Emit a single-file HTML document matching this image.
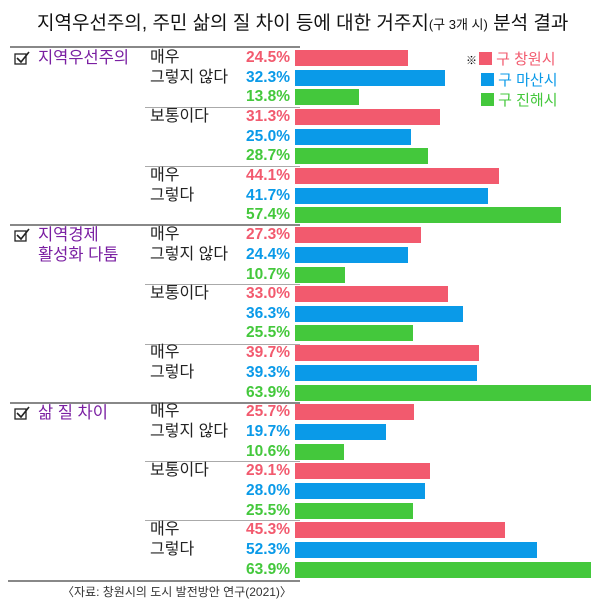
<!DOCTYPE html>
<html><head><meta charset="utf-8"><style>
body{margin:0;width:600px;height:607px;background:#fff;position:relative;overflow:hidden;font-family:"Liberation Sans","Noto Sans CJK KR",sans-serif;}
.a{position:absolute;}
.r{position:absolute;left:0;width:600px;height:20px;line-height:20px;}
.r .p{position:absolute;right:310px;font-weight:bold;font-size:15.5px;}
.r .b{position:absolute;left:295px;top:2px;height:16px;}
.r .t{position:absolute;left:150px;font-size:16px;color:#222;}
.R .p{color:#f25a6e}.R .b{background:#f25a6e}
.B .p{color:#0a9ae8}.B .b{background:#0a9ae8}
.G .p{color:#44c83c}.G .b{background:#44c83c}
.sl{position:absolute;left:145px;width:155px;height:1px;background:#aaa;}
.cl{position:absolute;left:10px;width:290px;height:2px;background:#888;}
.cat{position:absolute;left:14px;font-size:16.5px;color:#7a1fa2;line-height:20px;}
.cat svg{vertical-align:-2px;margin-right:8px;}
</style></head><body>
<div class="a" style="left:37px;top:8px;font-size:19px;color:#111;white-space:nowrap;">지역우선주의, 주민 삶의 질 차이 등에 대한 거주지<span style="font-size:13px">(구 3개 시)</span> 분석 결과</div>

<div class="a" style="left:466px;top:50px;font-size:15px;line-height:20px;">
<div><span style="font-size:11px;margin-right:2px">※</span><span style="display:inline-block;width:13px;height:13px;background:#f25a6e;vertical-align:-1px"></span><span style="color:#f25a6e"> 구 창원시</span></div>
<div style="padding-left:15px"><span style="display:inline-block;width:13px;height:13px;background:#0a9ae8;vertical-align:-1px"></span><span style="color:#0a9ae8"> 구 마산시</span></div>
<div style="padding-left:15px"><span style="display:inline-block;width:13px;height:13px;background:#44c83c;vertical-align:-1px"></span><span style="color:#44c83c"> 구 진해시</span></div>
</div>

<div class="cl" style="top:46px"></div>
<div class="cl" style="top:224px"></div>
<div class="cl" style="top:402px"></div>
<div class="cl" style="top:580px;left:8px;width:292px"></div>
<div class="sl" style="top:107px"></div><div class="sl" style="top:166px"></div>
<div class="sl" style="top:284px"></div><div class="sl" style="top:344px"></div>
<div class="sl" style="top:461px"></div><div class="sl" style="top:520px"></div>

<div class="cat" style="top:48px"><svg width="16" height="14"><rect x="1" y="3" width="11" height="10" fill="none" stroke="#222" stroke-width="1.3"/><path d="M3 7 L7 11 L15 1" fill="none" stroke="#222" stroke-width="1.6"/></svg>지역우선주의</div>
<div class="cat" style="top:225px"><svg width="16" height="14"><rect x="1" y="3" width="11" height="10" fill="none" stroke="#222" stroke-width="1.3"/><path d="M3 7 L7 11 L15 1" fill="none" stroke="#222" stroke-width="1.6"/></svg>지역경제<br><span style="padding-left:24px">활성화 다툼</span></div>
<div class="cat" style="top:403px"><svg width="16" height="14"><rect x="1" y="3" width="11" height="10" fill="none" stroke="#222" stroke-width="1.3"/><path d="M3 7 L7 11 L15 1" fill="none" stroke="#222" stroke-width="1.6"/></svg>삶 질 차이</div>

<div class="r R" style="top:48px"><span class="t">매우</span><span class="p">24.5%</span><span class="b" style="width:113px"></span></div>
<div class="r B" style="top:68px"><span class="t">그렇지 않다</span><span class="p">32.3%</span><span class="b" style="width:150px"></span></div>
<div class="r G" style="top:87px"><span class="p">13.8%</span><span class="b" style="width:64px"></span></div>
<div class="r R" style="top:107px"><span class="t">보통이다</span><span class="p">31.3%</span><span class="b" style="width:145px"></span></div>
<div class="r B" style="top:127px"><span class="p">25.0%</span><span class="b" style="width:116px"></span></div>
<div class="r G" style="top:146px"><span class="p">28.7%</span><span class="b" style="width:133px"></span></div>
<div class="r R" style="top:166px"><span class="t">매우</span><span class="p">44.1%</span><span class="b" style="width:204px"></span></div>
<div class="r B" style="top:186px"><span class="t">그렇다</span><span class="p">41.7%</span><span class="b" style="width:193px"></span></div>
<div class="r G" style="top:205px"><span class="p">57.4%</span><span class="b" style="width:266px"></span></div>

<div class="r R" style="top:225px"><span class="t">매우</span><span class="p">27.3%</span><span class="b" style="width:126px"></span></div>
<div class="r B" style="top:245px"><span class="t">그렇지 않다</span><span class="p">24.4%</span><span class="b" style="width:113px"></span></div>
<div class="r G" style="top:265px"><span class="p">10.7%</span><span class="b" style="width:50px"></span></div>
<div class="r R" style="top:284px"><span class="t">보통이다</span><span class="p">33.0%</span><span class="b" style="width:153px"></span></div>
<div class="r B" style="top:304px"><span class="p">36.3%</span><span class="b" style="width:168px"></span></div>
<div class="r G" style="top:323px"><span class="p">25.5%</span><span class="b" style="width:118px"></span></div>
<div class="r R" style="top:343px"><span class="t">매우</span><span class="p">39.7%</span><span class="b" style="width:184px"></span></div>
<div class="r B" style="top:363px"><span class="t">그렇다</span><span class="p">39.3%</span><span class="b" style="width:182px"></span></div>
<div class="r G" style="top:383px"><span class="p">63.9%</span><span class="b" style="width:296px"></span></div>

<div class="r R" style="top:402px"><span class="t">매우</span><span class="p">25.7%</span><span class="b" style="width:119px"></span></div>
<div class="r B" style="top:422px"><span class="t">그렇지 않다</span><span class="p">19.7%</span><span class="b" style="width:91px"></span></div>
<div class="r G" style="top:442px"><span class="p">10.6%</span><span class="b" style="width:49px"></span></div>
<div class="r R" style="top:461px"><span class="t">보통이다</span><span class="p">29.1%</span><span class="b" style="width:135px"></span></div>
<div class="r B" style="top:481px"><span class="p">28.0%</span><span class="b" style="width:130px"></span></div>
<div class="r G" style="top:501px"><span class="p">25.5%</span><span class="b" style="width:118px"></span></div>
<div class="r R" style="top:520px"><span class="t">매우</span><span class="p">45.3%</span><span class="b" style="width:210px"></span></div>
<div class="r B" style="top:540px"><span class="t">그렇다</span><span class="p">52.3%</span><span class="b" style="width:242px"></span></div>
<div class="r G" style="top:560px"><span class="p">63.9%</span><span class="b" style="width:296px"></span></div>

<div class="a" style="left:62px;top:583px;font-size:12px;color:#333;">〈자료: 창원시의 도시 발전방안 연구(2021)〉</div>
</body></html>
